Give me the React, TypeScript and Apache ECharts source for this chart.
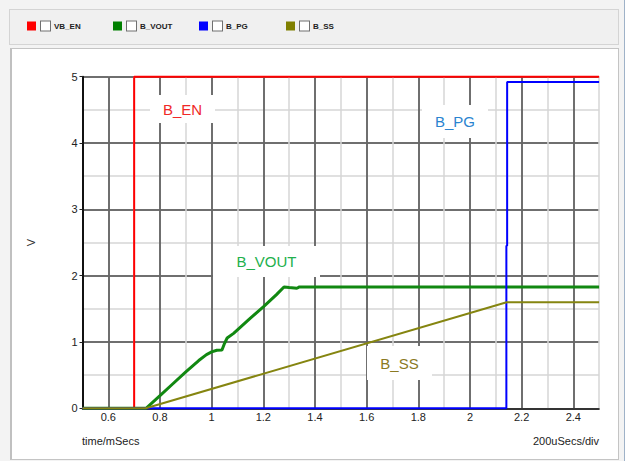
import React, { useEffect, useRef } from 'react';
import * as echarts from 'echarts';

// ---- data ----
const seriesNames = ['VB_EN', 'B_VOUT', 'B_PG', 'B_SS'];
const seriesColors = ['#ff0000', '#118811', '#0000ff', '#858510'];
const legendColors = ['#ff0000', '#008000', '#0000ff', '#808000'];

const enTime = [0.5, 0.7, 0.7, 2.5];
const enVolt = [0, 0, 5, 5];

const voutTime = [0.5, 0.746, 0.8, 0.85, 0.9, 0.95, 0.98, 1.0, 1.02, 1.04, 1.05, 1.06, 1.085, 1.15, 1.2, 1.25, 1.28, 1.3, 1.33, 1.34, 2.5];
const voutVolt = [0, 0, 0.19, 0.37, 0.55, 0.72, 0.81, 0.85, 0.875, 0.88, 0.98, 1.06, 1.13, 1.36, 1.53, 1.71, 1.83, 1.82, 1.81, 1.83, 1.83];

const pgTime = [0.5, 2.141, 2.141, 2.144, 2.144, 2.5];
const pgVolt = [0, 0, 2.45, 2.45, 4.92, 4.92];

const ssTime = [0.5, 0.745, 2.142, 2.5];
const ssVolt = [0, 0, 1.6, 1.6];

const xMin = 0.5;
const xMax = 2.5;
const yMin = 0;
const yMax = 5;
const xMajorTicks = [0.6, 0.8, 1.0, 1.2, 1.4, 1.6, 1.8, 2.0, 2.2, 2.4];

const annotationTexts = ['B_EN', 'B_VOUT', 'B_PG', 'B_SS'];
const annotationColors = ['#f02828', '#22b04c', '#2a84d0', '#8b7a22'];

const FONT = "'Liberation Sans', Arial, sans-serif";
const MAJOR = '#4a4a4a';
const MINOR = '#d6d6d6';

function pairs(xs: number[], ys: number[]) {
  return xs.map((x, i) => [x, ys[i]]);
}

export default function App() {
  const ref = useRef<HTMLDivElement>(null);

  useEffect(() => {
    if (!ref.current) return;
    const chart = echarts.init(ref.current, undefined, { renderer: 'svg' });

    const seriesData = [
      pairs(enTime, enVolt),
      pairs(voutTime, voutVolt),
      pairs(pgTime, pgVolt),
      pairs(ssTime, ssVolt),
    ];
    const widths = [2, 3, 2, 2];

    // annotation boxes [x, y, w, h] in pixels
    const boxes = [
      [150, 95, 65, 28],
      [213, 246, 107, 31],
      [422, 105, 66, 33],
      [367, 346, 65, 34],
    ];

    const graphics: any[] = [];
    boxes.forEach((b, i) => {
      graphics.push({
        type: 'rect',
        z: 10,
        shape: { x: b[0], y: b[1], width: b[2], height: b[3] },
        style: { fill: '#ffffff' },
      });
      graphics.push({
        type: 'text',
        z: 11,
        x: b[0] + b[2] / 2,
        y: b[1] + b[3] / 2,
        style: {
          text: annotationTexts[i],
          fill: annotationColors[i],
          font: `15px ${FONT}`,
          align: 'center',
          verticalAlign: 'middle',
        },
      });
    });
    graphics.push({
      type: 'text',
      z: 11,
      x: 82,
      y: 441,
      style: { text: 'time/mSecs', fill: '#222', font: `11px ${FONT}`, align: 'left', verticalAlign: 'middle' },
    });
    graphics.push({
      type: 'text',
      z: 11,
      x: 599,
      y: 441,
      style: { text: '200uSecs/div', fill: '#222', font: `11px ${FONT}`, align: 'right', verticalAlign: 'middle' },
    });

    const legendLefts = [27, 113, 199, 286];
    const legends = seriesNames.map((n, i) => ({
      left: legendLefts[i],
      top: 20,
      padding: 0,
      itemGap: 0,
      itemWidth: 9,
      itemHeight: 9,
      icon: 'rect',
      selectedMode: false,
      data: [{ name: n, itemStyle: { color: legendColors[i] } }],
      formatter: (name: string) => `{box|}{sp|}{name|${name}}`,
      textStyle: {
        rich: {
          box: { width: 9, height: 9, borderColor: '#707070', borderWidth: 1, backgroundColor: '#ffffff' },
          sp: { width: 4 },
          name: { fontSize: 8, fontFamily: FONT, color: '#222', fontWeight: 'bold' },
        },
      },
    }));

    const option: any = {
      animation: false,
      backgroundColor: 'transparent',
      textStyle: { fontFamily: FONT },
      grid: { left: 82.5, top: 76.7, width: 516.6, height: 331.6, containLabel: false },
      legend: legends,
      xAxis: [
        {
          type: 'value',
          min: xMin,
          max: xMax,
          interval: 0.1,
          axisLine: { show: false },
          axisTick: { show: false },
          axisLabel: { show: false },
          splitLine: { show: true, lineStyle: { color: MINOR, width: 1.5 } },
        },
        {
          type: 'value',
          min: xMin,
          max: xMax,
          position: 'bottom',
          axisLine: { show: true, onZero: false, lineStyle: { color: '#222', width: 1.5 } },
          axisTick: { show: false, customValues: xMajorTicks },
          axisLabel: {
            margin: 3,
            fontSize: 11,
            color: '#222',
            fontFamily: FONT,
            customValues: xMajorTicks,
            formatter: (v: number) => String(Math.round(v * 10) / 10),
          },
          splitLine: { show: true, lineStyle: { color: MAJOR, width: 1.5 } },
        },
      ],
      yAxis: [
        {
          type: 'value',
          min: yMin,
          max: yMax,
          interval: 0.5,
          axisLine: { show: false },
          axisTick: { show: false },
          axisLabel: { show: false },
          splitLine: { show: true, lineStyle: { color: MINOR, width: 1.5 } },
        },
        {
          type: 'value',
          min: yMin,
          max: yMax,
          interval: 1,
          position: 'left',
          name: 'V',
          nameLocation: 'middle',
          nameGap: 46,
          nameTextStyle: { fontSize: 11, color: '#333', fontFamily: FONT },
          axisLine: { show: true, onZero: false, lineStyle: { color: '#111', width: 2 } },
          axisTick: { show: true, length: 3, lineStyle: { color: '#222', width: 1 } },
          axisLabel: { margin: 5, fontSize: 11, color: '#222', fontFamily: FONT },
          splitLine: { show: true, lineStyle: { color: MAJOR, width: 1.5 } },
        },
      ],
      series: seriesNames.map((n, i) => ({
        name: n,
        type: 'line',
        xAxisIndex: 0,
        yAxisIndex: 0,
        data: seriesData[i],
        showSymbol: false,
        symbol: 'none',
        clip: false,
        color: seriesColors[i],
        lineStyle: { color: seriesColors[i], width: widths[i] },
        z: 3 + i,
      })),
      graphic: { elements: graphics },
    };

    chart.setOption(option);
    return () => chart.dispose();
  }, []);

  return (
    <div style={{ position: 'fixed', left: 0, top: 0, width: 630, height: 461, background: '#f3f3f3', overflow: 'hidden' }}>
      <div style={{ position: 'absolute', left: 9, top: 9, width: 610, height: 36, border: '1px solid #d4d4d4', background: '#f0f0f0', boxSizing: 'border-box' }} />
      <div style={{ position: 'absolute', left: 10, top: 48, width: 609, height: 412, borderTop: '1px solid #c4c4c4', borderLeft: '2px solid #c0c0c0', borderRight: '1px solid #c4c4c4', borderBottom: '1px solid #c4c4c4', background: '#ffffff', boxSizing: 'border-box' }} />
      <div style={{ position: 'absolute', left: 624, top: 0, width: 1, height: 461, background: '#9fb2c8' }} />
      <div style={{ position: 'absolute', left: 625, top: 0, width: 5, height: 461, background: '#ffffff' }} />
      <div ref={ref} style={{ position: 'absolute', left: 0, top: 0, width: 630, height: 461 }} />
    </div>
  );
}
